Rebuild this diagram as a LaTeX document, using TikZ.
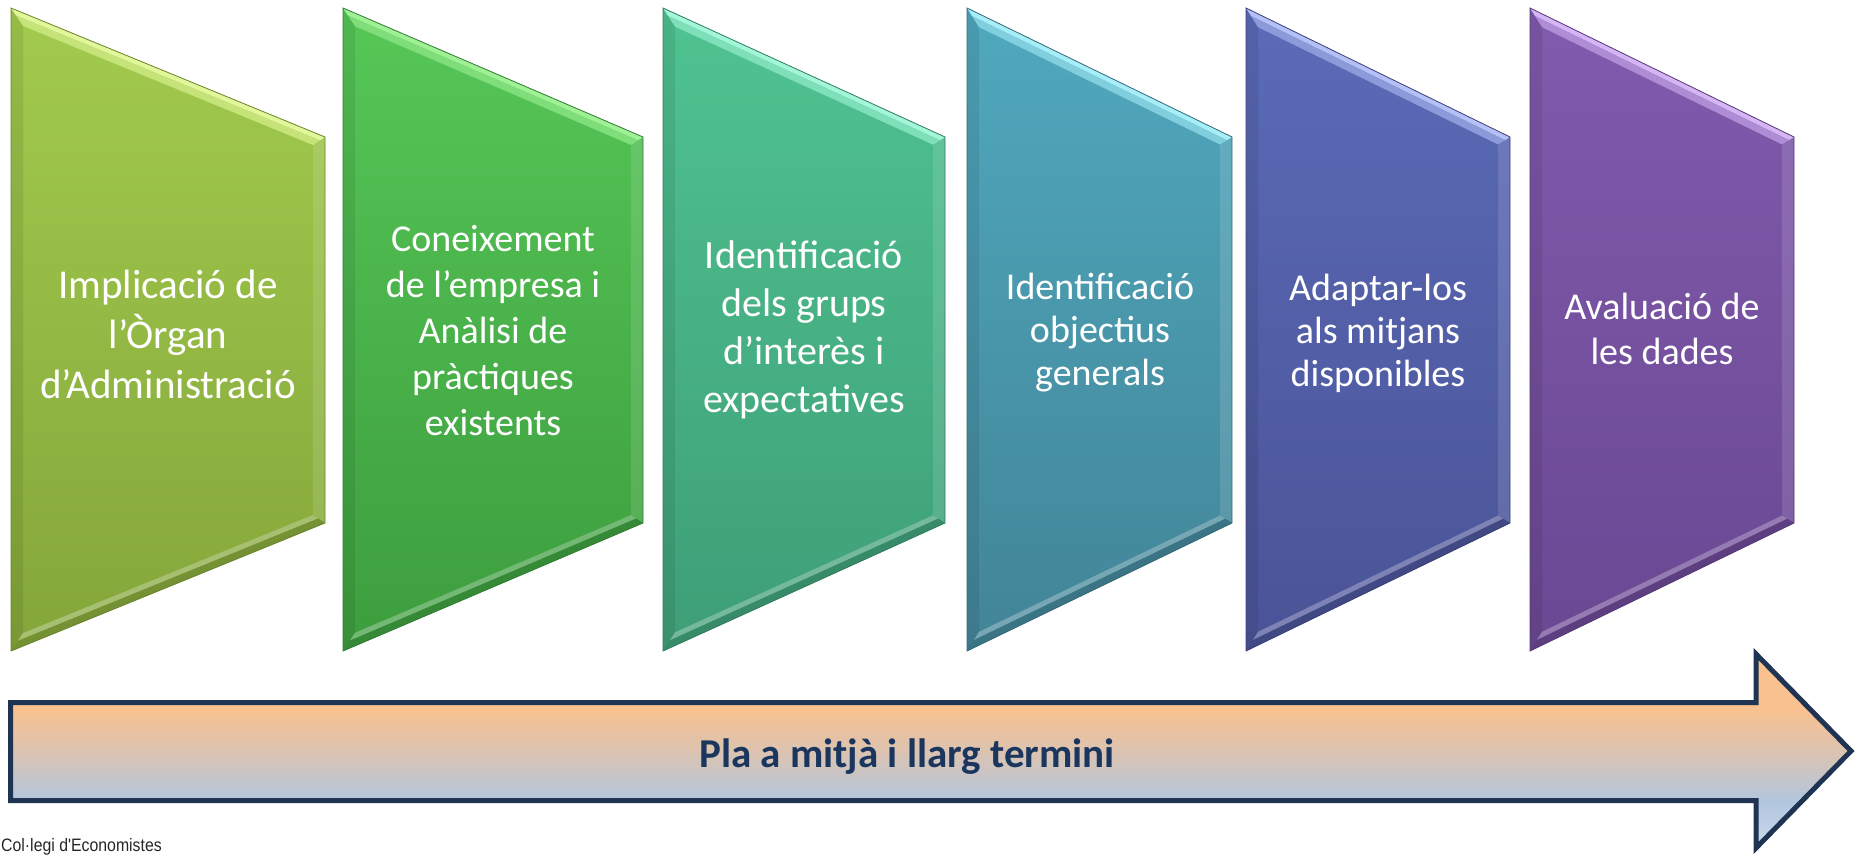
\documentclass[tikz,border=0pt]{standalone}
\usepackage{fontspec}
\setmainfont{Carlito}
\newfontfamily\footfont[FakeStretch=0.88]{Liberation Sans}
\usetikzlibrary{calc}

\definecolor{arrO}{HTML}{F9C18F}
\definecolor{arrM}{HTML}{DCC3B0}
\definecolor{arrB}{HTML}{B2C6DF}
\definecolor{arrB2}{HTML}{CCDAEC}
\definecolor{navyline}{HTML}{1E3452}
\definecolor{navytext}{HTML}{1B365E}

\definecolor{cAt}{HTML}{A3CB4E}\definecolor{cAb}{HTML}{84A63A}\definecolor{cAh}{HTML}{E2F69C}
\definecolor{cBt}{HTML}{56C757}\definecolor{cBb}{HTML}{3D9D3E}\definecolor{cBh}{HTML}{A0F095}
\definecolor{cCt}{HTML}{50C391}\definecolor{cCb}{HTML}{3E9E77}\definecolor{cCh}{HTML}{A4F6D8}
\definecolor{cDt}{HTML}{50A9BE}\definecolor{cDb}{HTML}{428497}\definecolor{cDh}{HTML}{A8EEF9}
\definecolor{cEt}{HTML}{5B6BB8}\definecolor{cEb}{HTML}{4A5396}\definecolor{cEh}{HTML}{B4C0F6}
\definecolor{cFt}{HTML}{815BAD}\definecolor{cFb}{HTML}{6A4893}\definecolor{cFh}{HTML}{D4B6F6}

\pgfdeclareverticalshading{arrowshade}{100bp}{color(0bp)=(arrB2); color(25bp)=(arrB2); color(37bp)=(arrB); color(50bp)=(arrM); color(61bp)=(arrO); color(100bp)=(arrO)}

\tikzset{
  boxtext/.style={text=white, align=center, inner sep=0pt},
  arrowbody/.style={shade, shading=arrowshade, draw=navyline, line width=5pt, line join=miter, miter limit=10},
  plantext/.style={text=navytext, font=\bfseries\fontsize{41}{50}\selectfont, inner sep=0pt},
  foottext/.style={text=black!85, font=\footfont\fontsize{18}{20}\selectfont, inner sep=0pt}
}

% #1 xl, #2 xr, #3 top colour, #4 bottom colour, #5 highlight, #6 name
\newcommand\bevelbox[6]{%
  \pgfmathsetmacro\bs{129/(#2-#1)}%
  \pgfmathsetmacro\bk{sqrt(1+\bs*\bs)}%
  \coordinate (#6-tl-a) at (#1,8);
  \coordinate (#6-tr-a) at (#2,137);
  \coordinate (#6-br-a) at (#2,523);
  \coordinate (#6-bl-a) at (#1,651);
  \coordinate (#6-tl-b) at ({#1+5},{8+5*\bs+5*\bk});
  \coordinate (#6-tr-b) at ({#2-5},{137-5*\bs+5*\bk});
  \coordinate (#6-br-b) at ({#2-7},{523+7*\bs-7*\bk});
  \coordinate (#6-bl-b) at ({#1+7},{651-7*\bs-7*\bk});
  \coordinate (#6-tl-c) at ({#1+12},{8+12*\bs+12*\bk});
  \coordinate (#6-tr-c) at ({#2-12},{137-12*\bs+12*\bk});
  \coordinate (#6-br-c) at ({#2-12},{523+12*\bs-12*\bk});
  \coordinate (#6-bl-c) at ({#1+12},{651-12*\bs-12*\bk});
  \path[shade, top color=#3, bottom color=#4]
    (#6-tl-a) -- (#6-tr-a) -- (#6-br-a) -- (#6-bl-a) -- cycle;
  % left bevel
  \fill[black, opacity=0.08] (#6-bl-a) -- (#6-tl-a) -- (#6-tl-c) -- (#6-bl-c) -- cycle;
  % right bevel
  \fill[white, opacity=0.12] (#6-tr-a) -- (#6-br-a) -- (#6-br-c) -- (#6-tr-c) -- cycle;
  % bottom bevel
  \fill[#4!88!black] (#6-br-a) -- (#6-bl-a) -- (#6-bl-b) -- (#6-br-b) -- cycle;
  \fill[#4!72!white] (#6-br-b) -- (#6-bl-b) -- (#6-bl-c) -- (#6-br-c) -- cycle;
  % top bevel
  \fill[#5] (#6-tl-a) -- (#6-tr-a) -- (#6-tr-b) -- (#6-tl-b) -- cycle;
  \fill[#5!55!#3] (#6-tl-b) -- (#6-tr-b) -- (#6-tr-c) -- (#6-tl-c) -- cycle;
  % outline
  \draw[#4!80!black, line width=0.8pt, line join=miter]
    (#6-tl-a) -- (#6-tr-a) -- (#6-br-a) -- (#6-bl-a) -- cycle;
}

\begin{document}
\begin{tikzpicture}[x=1pt, y=-1pt]
\useasboundingbox (0,0) rectangle (1867,856);

\bevelbox{11}{325}{cAt}{cAb}{cAh}{b1}
\bevelbox{343}{643}{cBt}{cBb}{cBh}{b2}
\bevelbox{663}{945}{cCt}{cCb}{cCh}{b3}
\bevelbox{967}{1232}{cDt}{cDb}{cDh}{b4}
\bevelbox{1246}{1510}{cEt}{cEb}{cEh}{b5}
\bevelbox{1530}{1794}{cFt}{cFb}{cFh}{b6}

\node[boxtext, font=\fontsize{41}{50}\selectfont] (s1) at (168,334)
  {Implicació de\\l’Òrgan\\d’Administració};
\node[boxtext, font=\fontsize{38}{46}\selectfont] (s2) at (493,331)
  {Coneixement\\de l’empresa i\\Anàlisi de\\pràctiques\\existents};
\node[boxtext, font=\fontsize{40}{48}\selectfont] (s3) at (804,330)
  {Identificació\\dels grups\\d’interès i\\expectatives};
\node[boxtext, font=\fontsize{38}{43}\selectfont] (s4) at (1100,333)
  {Identificació\\objectius\\generals};
\node[boxtext, font=\fontsize{38}{43}\selectfont] (s5) at (1378,333)
  {Adaptar-los\\als mitjans\\disponibles};
\node[boxtext, font=\fontsize{38}{45}\selectfont] (s6) at (1662,329)
  {Avaluació de\\les dades};

\path[arrowbody] (10.5,702.5) -- (1756,702.5) -- (1756,654) -- (1851,751)
  -- (1756,848) -- (1756,800.5) -- (10.5,800.5) -- cycle;
\node[plantext] (plan) at (907,757) {Pla a mitjà i llarg termini};

\node[foottext, anchor=base west] (foot) at (1,851) {Col·legi d'Economistes};
\end{tikzpicture}
\end{document}
